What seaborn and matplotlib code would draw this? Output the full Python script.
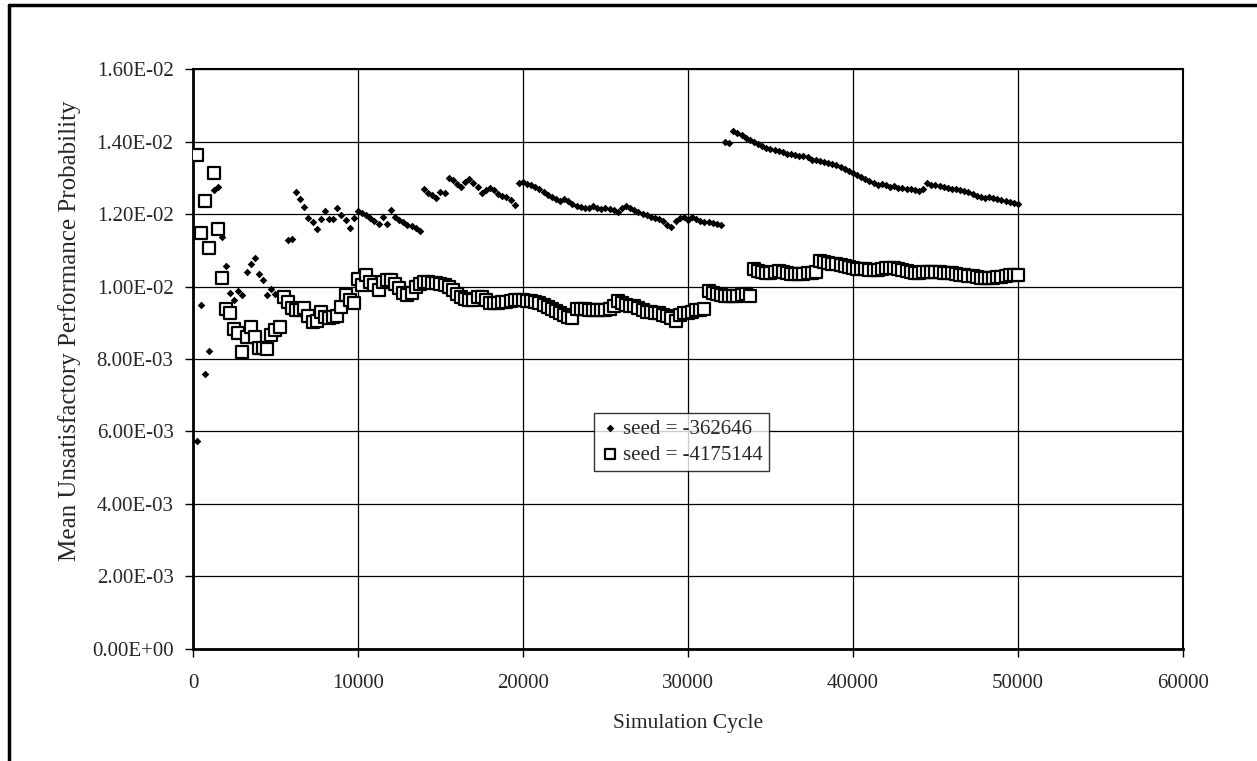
import numpy as np
import pandas as pd
import matplotlib
matplotlib.use("Agg")
import matplotlib.pyplot as plt
import seaborn as sns

# values, x 1e-3 units, one point every 250 cycles
seed_a = [
    5.75, 9.49, 7.59, 8.23, 12.66, 12.74, 11.37, 10.57, 9.83, 9.63,
    9.88, 9.77, 10.41, 10.61, 10.78, 10.34, 10.18, 9.77, 9.92, 9.79,
    np.nan, np.nan, 11.28, 11.30, 12.62, 12.41, 12.20, 11.88, 11.78, 11.58,
    11.85, 12.08, 11.87, 11.87, 12.16, 11.97, 11.83, 11.61, 11.88, 12.08,
    12.02, 11.97, 11.88, 11.81, 11.72, 11.91, 11.73, 12.11, 11.93, 11.83,
    11.79, 11.70, 11.67, 11.61, 11.53, 12.68, 12.59, 12.53, 12.43, 12.62,
    12.57, 12.98, 12.93, 12.84, 12.75, 12.89, 12.96, 12.86, 12.74, 12.57,
    12.65, 12.71, 12.65, 12.56, 12.50, 12.46, 12.39, 12.25, 12.85, 12.89,
    12.84, 12.80, 12.74, 12.68, 12.60, 12.53, 12.47, 12.42, 12.35, 12.41,
    12.35, 12.29, 12.23, 12.19, 12.17, 12.17, 12.23, 12.17, 12.13, 12.16,
    12.13, 12.11, 12.06, 12.17, 12.21, 12.16, 12.10, 12.06, 12.01, 11.97,
    11.93, 11.90, 11.86, 11.80, 11.70, 11.65, 11.80, 11.88, 11.93, 11.84,
    11.93, 11.86, 11.81, 11.79, 11.77, 11.74, 11.72, 11.70, 13.98, 13.95,
    14.29, 14.23, 14.17, 14.11, 14.05, 14.00, 13.93, 13.87, 13.82, 13.78,
    13.76, 13.73, 13.70, 13.66, 13.65, 13.62, 13.61, 13.59, 13.56, 13.50,
    13.48, 13.47, 13.44, 13.41, 13.38, 13.35, 13.31, 13.25, 13.19, 13.13,
    13.08, 13.03, 12.97, 12.91, 12.86, 12.80, 12.84, 12.79, 12.74, 12.77,
    12.73, 12.71, 12.70, 12.69, 12.66, 12.63, 12.68, 12.86, 12.81, 12.79,
    12.77, 12.75, 12.72, 12.70, 12.68, 12.65, 12.63, 12.60, 12.56, 12.50,
    12.46, 12.44, 12.46, 12.43, 12.41, 12.39, 12.37, 12.34, 12.31, 12.28,
]

seed_b = [
    13.63, 11.47, 12.36, 11.05, 13.12, 11.58, 10.24, 9.39, 9.28, 8.82,
    8.73, 8.20, 8.60, 8.89, 8.60, 8.31, 8.29, 8.27, 8.66, 8.80,
    8.89, 9.72, 9.58, 9.40, 9.35, 9.35, 9.40, 9.19, 9.03, 9.05,
    9.30, 9.17, 9.12, 9.17, 9.20, 9.43, 9.77, 9.63, 9.54, 10.21,
    10.04, 10.32, 10.13, 10.04, 9.90, 10.13, 10.17, 10.17, 10.08, 9.97,
    9.81, 9.77, 9.81, 9.99, 10.08, 10.13, 10.13, 10.10, 10.10, 10.08,
    10.04, 10.00, 9.91, 9.80, 9.72, 9.65, 9.63, 9.63, 9.70, 9.72,
    9.63, 9.54, 9.54, 9.54, 9.56, 9.57, 9.59, 9.62, 9.63, 9.62,
    9.59, 9.59, 9.58, 9.54, 9.50, 9.44, 9.38, 9.33, 9.27, 9.21,
    9.15, 9.13, 9.37, 9.37, 9.37, 9.36, 9.35, 9.34, 9.34, 9.35,
    9.37, 9.45, 9.59, 9.54, 9.50, 9.47, 9.45, 9.42, 9.35, 9.31,
    9.29, 9.28, 9.26, 9.22, 9.19, 9.14, 9.06, 9.22, 9.26, 9.28,
    9.30, 9.34, 9.36, 9.37, 9.88, 9.83, 9.79, 9.76, 9.75, 9.74,
    9.74, 9.75, 9.77, 9.78, 9.74, 10.47, 10.43, 10.39, 10.37, 10.36,
    10.41, 10.43, 10.41, 10.38, 10.35, 10.34, 10.34, 10.35, 10.36, 10.38,
    10.39, 10.71, 10.67, 10.65, 10.63, 10.62, 10.60, 10.57, 10.53, 10.51,
    10.49, 10.48, 10.47, 10.46, 10.46, 10.46, 10.48, 10.50, 10.52, 10.50,
    10.48, 10.45, 10.43, 10.41, 10.38, 10.37, 10.41, 10.41, 10.41, 10.40,
    10.39, 10.38, 10.37, 10.36, 10.34, 10.33, 10.31, 10.30, 10.28, 10.25,
    10.24, 10.23, 10.23, 10.24, 10.25, 10.26, 10.28, 10.31, 10.32, 10.33,
]

cycle_a = [250 * (i + 1) for i in range(len(seed_a))]
cycle_b = [250 * (i + 1) for i in range(len(seed_b))]

label_a = "seed = -362646"
label_b = "seed = -4175144"

df_a = pd.DataFrame({"cycle": cycle_a, "prob": np.array(seed_a) * 1e-3})
df_b = pd.DataFrame({"cycle": cycle_b, "prob": np.array(seed_b) * 1e-3})

sns.set_style("white")
plt.rcParams["font.family"] = ["Liberation Serif", "DejaVu Serif"]

fig = plt.figure(figsize=(12.57, 7.61), dpi=100)
ax = fig.add_axes([0.1535, 0.1472, 0.7876, 0.7621])

sns.scatterplot(data=df_a, x="cycle", y="prob", ax=ax, marker="D", s=15,
                color="black", edgecolor="black", linewidth=0, label=label_a, zorder=3)
sns.scatterplot(data=df_b, x="cycle", y="prob", ax=ax, marker="s", s=85,
                facecolor="white", edgecolor="black", linewidth=1.6, label=label_b, zorder=4)

ax.set_xlim(0, 60000)
ax.set_ylim(0, 0.016)
ax.set_xticks(np.arange(0, 60001, 10000))
ax.set_yticks(np.arange(0, 0.01601, 0.002))
ax.set_yticklabels([f"{v:.2E}" for v in np.arange(0, 0.01601, 0.002)])
ax.grid(True, color="black", linewidth=0.9)
ax.set_axisbelow(True)
for side in ["left", "bottom"]:
    ax.spines[side].set_linewidth(2)
for side in ["top", "right"]:
    ax.spines[side].set_linewidth(1.5)
for s in ax.spines.values():
    s.set_color("black")
ax.tick_params(axis="both", direction="out", length=6, width=1, color="black",
               labelsize=15, left=True, bottom=True)
ax.tick_params(axis="y", pad=8)
ax.tick_params(axis="x", pad=12)

ax.set_xlabel("Simulation Cycle", fontsize=15.5, labelpad=15)
ax.set_ylabel("Mean Unsatisfactory Performance Probability", fontsize=18)
ax.yaxis.set_label_coords(-0.113, 0.548)

leg = ax.legend(loc="upper left", bbox_to_anchor=(0.405, 0.407), borderaxespad=0,
                fontsize=15, frameon=True, fancybox=False, edgecolor="black",
                handletextpad=0.2, handlelength=0.9, borderpad=0.3, labelspacing=0.3)
leg.get_frame().set_linewidth(1)
h = leg.legend_handles
h[0].set_sizes([15])
h[1].set_sizes([50])

# outer chart frame (top and left edges only)
fig.add_artist(plt.Line2D([9 / 1257, 1], [1 - 5 / 761, 1 - 5 / 761],
                          transform=fig.transFigure, color="black", linewidth=2.5))
fig.add_artist(plt.Line2D([9 / 1257, 9 / 1257], [0, 1 - 5 / 761],
                          transform=fig.transFigure, color="black", linewidth=2.5))

fig.savefig("out.png", dpi=100)
